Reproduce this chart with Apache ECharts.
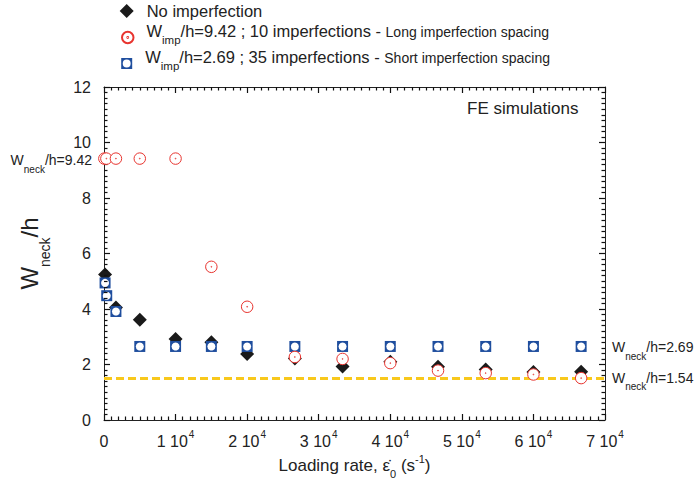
<!DOCTYPE html>
<html><head><meta charset="utf-8">
<script src="https://cdn.jsdelivr.net/npm/echarts@6/dist/echarts.min.js"></script>
<style>html,body{margin:0;padding:0;background:#fff}#c{width:695px;height:486px}</style>
</head><body><div id="c"></div>
<script>
const FONT = "'Liberation Sans', Arial, Helvetica, sans-serif";
const TXT = '#222222';

// ---- data ----
const xNoImp = [150, 1667, 5000, 10000, 15000, 20000, 26667, 33333, 40000, 46667, 53333, 60000, 66667];
const yNoImp = [5.24, 4.05, 3.61, 2.92, 2.80, 2.38, 2.22, 1.93, 2.10, 1.92, 1.82, 1.73, 1.74];

const xLong = [50, 333, 1667, 5000, 10000, 15000, 20000, 26667, 33333, 40000, 46667, 53333, 60000, 66667];
const yLong = [9.42, 9.42, 9.42, 9.42, 9.42, 5.52, 4.08, 2.27, 2.20, 2.05, 1.78, 1.69, 1.64, 1.51];

const xShort = [150, 380, 1667, 5000, 10000, 15000, 20000, 26667, 33333, 40000, 46667, 53333, 60000, 66667];
const yShort = [4.94, 4.48, 3.91, 2.65, 2.65, 2.65, 2.65, 2.65, 2.65, 2.65, 2.65, 2.65, 2.65, 2.65];

const neckLine = 1.5;

const xTickLabels = ['0', '1', '2', '3', '4', '5', '6', '7'];
const xTickExponent = '4';
const yTickLabels = ['0', '2', '4', '6', '8', '10', '12'];

const seriesNames = ['No imperfection', 'Long', 'Short'];

// axis ranges / tick steps
const X_MIN = 0, X_MAX = 70000, X_STEP = 10000, X_MINOR = 1000;
const Y_MIN = 0, Y_MAX = 12, Y_STEP = 2, Y_MINOR = 0.2;

// layout
const GRID = { left: 104, right: 90, top: 87, bottom: 66 };
const W = 695, H = 486;

// ---- helpers ----
const zip = (xs, ys) => xs.map((x, i) => [x, ys[i]]);
const CIRCLE_DOT = 'path://M0,-10A10,10,0,1,1,0,10A10,10,0,1,1,0,-10ZM0,-0.7A0.7,0.7,0,1,1,0,0.7A0.7,0.7,0,1,1,0,-0.7Z';
const SQUARE_HOLE = 'path://M-10,-10L10,-10L10,10L-10,10ZM0,-7.2A7.2,7.2,0,0,0,0,7.2A7.2,7.2,0,0,0,0,-7.2Z';

const RED = '#e8342f';
const BLUE = '#1f4e9e';
const YELLOW = '#f8c81c';

function tickList(min, max, minor, major) {
  const out = [];
  const n = Math.round((max - min) / minor);
  for (let i = 0; i <= n; i++) {
    const v = min + i * minor;
    const isMajor = Math.abs(v / major - Math.round(v / major)) < 1e-6;
    out.push([v, isMajor]);
  }
  return out;
}

// inside tick marks on all four sides, as short segments in data coordinates
const dxPerPx = (X_MAX - X_MIN) / (W - GRID.left - GRID.right);
const dyPerPx = (Y_MAX - Y_MIN) / (H - GRID.top - GRID.bottom);
const tickSegments = [];
tickList(X_MIN, X_MAX, X_MINOR, X_STEP).forEach(([v, major]) => {
  const L = (major ? 6 : 3.5) * dyPerPx;
  tickSegments.push([{ coord: [v, Y_MIN] }, { coord: [v, Y_MIN + L] }]);
  tickSegments.push([{ coord: [v, Y_MAX] }, { coord: [v, Y_MAX - L] }]);
});
tickList(Y_MIN, Y_MAX, Y_MINOR, Y_STEP).forEach(([v, major]) => {
  const L = (major ? 6 : 3.5) * dxPerPx;
  tickSegments.push([{ coord: [X_MIN, v] }, { coord: [X_MIN + L, v] }]);
  tickSegments.push([{ coord: [X_MAX, v] }, { coord: [X_MAX - L, v] }]);
});

function axisCommon(extra) {
  return Object.assign({
    type: 'value',
    axisLine: { show: true, onZero: false, lineStyle: { color: TXT, width: 1 } },
    axisTick: { show: false },
    minorTick: { show: false },
    splitLine: { show: false },
    minorSplitLine: { show: false }
  }, extra);
}

const legendRich = {
  g: { width: 8 },
  m: { fontSize: 16.5, fontFamily: FONT, color: TXT, verticalAlign: 'top' },
  s: { fontSize: 11.5, fontFamily: FONT, color: TXT, verticalAlign: 'top', padding: [11.5, 0, 6.7, 0] },
  l: { fontSize: 14, fontFamily: FONT, color: TXT, verticalAlign: 'top', padding: [2.2, 0, 0, 0] }
};
const legendLabels = {
  'No imperfection': '{g| }{m|No imperfection}',
  'Long': '{g| }{m|W}{s|imp}{m|/h=9.42 ; 10 imperfections - }{l|Long imperfection spacing}',
  'Short': '{g| }{m|W}{s|imp}{m|/h=2.69 ; 35 imperfections - }{l|Short imperfection spacing}'
};
function mkLegend(name, icon, size, left, top) {
  return {
    data: [{ name: name, icon: icon }],
    orient: 'vertical', left: left, top: top, padding: 0,
    itemWidth: size, itemHeight: size, selectedMode: false,
    formatter: n => legendLabels[n],
    textStyle: { color: TXT, fontFamily: FONT, fontSize: 16.5, rich: legendRich }
  };
}

const annRich = {
  m: { fontSize: 14, fontFamily: FONT, fill: TXT, verticalAlign: 'top' },
  s: { fontSize: 10, fontFamily: FONT, fill: TXT, verticalAlign: 'top', padding: [11, 0, 0, 0] }
};

const texts = [
  { type: 'text', x: 92, y: 153, silent: true,
    style: { text: '{m|W}{s|neck}{m|/h=9.42}', align: 'right', verticalAlign: 'top', fill: TXT, font: '14px ' + FONT, rich: annRich } },
  { type: 'text', x: 612, y: 340, silent: true,
    style: { text: '{m|W}{s|neck}{m|/h=2.69}', align: 'left', verticalAlign: 'top', fill: TXT, font: '14px ' + FONT, rich: annRich } },
  { type: 'text', x: 612, y: 370.6, silent: true,
    style: { text: '{m|W}{s|neck}{m|/h=1.54}', align: 'left', verticalAlign: 'top', fill: TXT, font: '14px ' + FONT, rich: annRich } },
  { type: 'text', x: 467, y: 99.5, silent: true,
    style: { text: 'FE simulations', align: 'left', verticalAlign: 'top', fill: TXT, font: '17px ' + FONT } }
];

const chart = echarts.init(document.getElementById('c'), null, { renderer: 'svg' });
chart.setOption({
  animation: false,
  backgroundColor: '#ffffff',
  textStyle: { fontFamily: FONT },
  grid: Object.assign({ containLabel: false }, GRID),
  legend: [
    mkLegend('No imperfection', 'diamond', 14, 119.7, 2.5),
    mkLegend('Long', CIRCLE_DOT, 11.5, 121, 22.4),
    mkLegend('Short', SQUARE_HOLE, 11, 121.2, 48.4)
  ],
  xAxis: [
    axisCommon({
      min: X_MIN, max: X_MAX, interval: X_STEP, position: 'bottom',
      axisLabel: {
        margin: 9, color: TXT,
        formatter: v => {
          const i = Math.round(v / X_STEP);
          return i === 0 ? '{m|' + xTickLabels[0] + '}' : '{m|' + xTickLabels[i] + ' 10}{e|' + xTickExponent + '}';
        },
        rich: {
          m: { fontSize: 16, fontFamily: FONT, color: TXT, verticalAlign: 'top', padding: [4, 0, 0, 0] },
          e: { fontSize: 10, fontFamily: FONT, color: TXT, verticalAlign: 'top', padding: [0, 0, 0, 1] }
        }
      },
      name: '{m|Loading rate, \u03B5\u0307}{sub|0}{m| (s}{sup|-1}{m|)}',
      nameLocation: 'middle', nameGap: 33,
      nameTextStyle: {
        color: TXT,
        rich: {
          m: { fontSize: 17, fontFamily: FONT, color: TXT, verticalAlign: 'top', padding: [3, 0, 0, 0] },
          sub: { fontSize: 11, fontFamily: FONT, color: TXT, verticalAlign: 'top', padding: [15, 0, 0, 0] },
          sup: { fontSize: 11, fontFamily: FONT, color: TXT, verticalAlign: 'top', padding: [0, 0, 0, 0] }
        }
      }
    }),
    axisCommon({
      min: X_MIN, max: X_MAX, interval: X_STEP, position: 'top',
      axisLabel: { show: false }
    })
  ],
  yAxis: [
    axisCommon({
      min: Y_MIN, max: Y_MAX, interval: Y_STEP, position: 'left',
      axisLabel: {
        margin: 13, color: TXT, fontSize: 16, fontFamily: FONT,
        formatter: v => yTickLabels[Math.round(v / Y_STEP)]
      },
      name: '{m|W}{s|neck}{m|/h}',
      nameLocation: 'middle', nameRotate: 90, nameGap: 52,
      nameTextStyle: {
        color: TXT,
        rich: {
          m: { fontSize: 24, fontFamily: FONT, color: TXT, verticalAlign: 'top' },
          s: { fontSize: 14, fontFamily: FONT, color: TXT, verticalAlign: 'top', padding: [21, 0, 0, 0] }
        }
      }
    }),
    axisCommon({
      min: Y_MIN, max: Y_MAX, interval: Y_STEP, position: 'right',
      axisLabel: { show: false }
    })
  ],
  series: [
    {
      name: seriesNames[0], type: 'scatter', z: 2,
      symbol: 'diamond', symbolSize: 14,
      itemStyle: { color: '#1a1a1a', opacity: 1 },
      data: zip(xNoImp, yNoImp),
      markLine: {
        silent: true, symbol: ['none', 'none'], label: { show: false },
        lineStyle: { color: YELLOW, width: 3, type: [8, 4], opacity: 1 },
        emphasis: { disabled: true },
        data: [{ yAxis: neckLine }]
      }
    },
    {
      name: seriesNames[2], type: 'scatter', z: 3,
      symbol: 'rect', symbolSize: 11,
      itemStyle: { color: BLUE, opacity: 1 },
      data: zip(xShort, yShort)
    },
    {
      name: 'ShortHole', type: 'scatter', z: 4, silent: true,
      symbol: 'circle', symbolSize: 8,
      itemStyle: { color: '#ffffff', opacity: 1 },
      data: zip(xShort, yShort),
      markLine: {
        silent: true, symbol: ['none', 'none'], label: { show: false },
        lineStyle: { color: '#111111', width: 1.2, type: 'solid', opacity: 1 },
        emphasis: { disabled: true },
        data: tickSegments
      }
    },
    {
      name: seriesNames[1], type: 'scatter', z: 5,
      symbol: CIRCLE_DOT, symbolSize: 11.5, symbolKeepAspect: true,
      itemStyle: { color: '#ffffff', borderColor: RED, borderWidth: 1, opacity: 1 },
      data: zip(xLong, yLong)
    }
  ],
  graphic: texts
});
</script>
</body></html>
